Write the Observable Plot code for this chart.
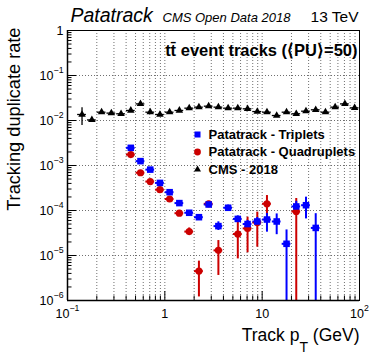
<!DOCTYPE html>
<html><head><meta charset="utf-8">
<script src="https://cdn.jsdelivr.net/npm/d3@7"></script>
<script src="https://cdn.jsdelivr.net/npm/@observablehq/plot@0.6"></script>
<style>
html,body{margin:0;padding:0;background:#fff;}
#chart{width:374px;height:359px;}
svg{font-family:"Liberation Sans",Arial,Helvetica,sans-serif;}
</style></head><body><div id="chart"></div>
<script>
// ---- data ----
const cmsPt   = [0.141,0.178,0.224,0.282,0.355,0.447,0.562,0.708,0.891,1.12,1.41,1.78,2.24,2.82,3.55,4.47,5.62,7.08,8.91,11.2,14.1,17.8,22.4,28.2,35.5,44.7,56.2,70.8,89.1];
const cmsRate = [0.0136,0.0103,0.0153,0.0146,0.0141,0.0167,0.0234,0.0153,0.0136,0.0153,0.0167,0.0188,0.0198,0.0208,0.0198,0.0188,0.0188,0.0182,0.0158,0.0153,0.0129,0.0153,0.0141,0.0161,0.0173,0.0153,0.0198,0.0234,0.0191];
const cmsLo   = [0.0077,0.0099,0.0148,0.0141,0.0136,0.0162,0.0227,0.0148,0.0131,0.0148,0.0162,0.0182,0.0192,0.0202,0.0192,0.0182,0.0182,0.0176,0.0152,0.0147,0.0123,0.0146,0.0134,0.0153,0.0164,0.0144,0.0186,0.0220,0.0177];
const cmsHi   = [0.0191,0.0107,0.0158,0.0151,0.0146,0.0172,0.0241,0.0158,0.0141,0.0158,0.0172,0.0194,0.0204,0.0214,0.0204,0.0194,0.0194,0.0188,0.0164,0.0159,0.0135,0.0160,0.0148,0.0169,0.0182,0.0162,0.0210,0.0248,0.0205];

const tripPt   = [0.447,0.562,0.708,0.891,1.12,1.41,1.78,2.24,2.82,3.55,4.47,5.62,7.08,8.91,11.2,14.1,17.8,22.4,28.2,35.5];
const tripRate = [2.47e-3,1.25e-3,8.1e-4,4.1e-4,2.55e-4,1.46e-4,8.9e-5,7.1e-5,1.36e-4,4.5e-5,1.15e-4,6.5e-5,5.0e-5,5.7e-5,6.3e-5,5.7e-5,1.82e-5,1.23e-4,1.31e-4,4.1e-5];
const tripLo   = [2.3e-3,1.15e-3,7.4e-4,3.7e-4,2.3e-4,1.3e-4,7.9e-5,6.2e-5,1.22e-4,3.6e-5,1.0e-4,5.4e-5,4.0e-5,4.6e-5,3.3e-5,2.9e-5,0,9e-5,6.5e-5,0];
const tripHi   = [2.65e-3,1.36e-3,8.9e-4,4.55e-4,2.85e-4,1.65e-4,1.0e-4,8.1e-5,1.52e-4,5.6e-5,1.32e-4,7.6e-5,6.0e-5,7.0e-5,8.6e-5,8.4e-5,3.7e-5,1.6e-4,1.98e-4,8.5e-5];

const quadPt   = [0.447,0.562,0.708,0.891,1.12,1.41,1.78,2.24,2.82,3.55,5.62,7.08,8.91,11.2,22.4];
const quadRate = [1.75e-3,6.9e-4,4.4e-4,2.9e-4,1.8e-4,8.7e-5,3.4e-5,4.5e-6,1.41e-4,1.3e-5,3.0e-5,4.0e-5,5.4e-5,1.41e-4,9.5e-5];
const quadLo   = [1.62e-3,6.3e-4,3.95e-4,2.55e-4,1.55e-4,7.6e-5,2.8e-5,1.2e-6,1.25e-4,3.6e-6,8.4e-6,1.15e-5,1.53e-5,7.7e-5,0];
const quadHi   = [1.9e-3,7.6e-4,4.9e-4,3.3e-4,2.05e-4,1.0e-4,4.1e-5,7.5e-6,1.6e-4,2.15e-5,6.8e-5,7.1e-5,9.2e-5,2.15e-4,1.85e-4];

const xTickValues = [0.1, 1, 10, 100];
const xTickLabels = ["10^{\u22121}", "1", "10", "10^{2}"];
const yTickValues = [1e-6, 1e-5, 1e-4, 1e-3, 1e-2, 1e-1, 1];
const yTickLabels = ["10^{\u22126}", "10^{\u22125}", "10^{\u22124}", "10^{\u22123}", "10^{\u22122}", "10^{\u22121}", "1"];

const legendLabels = ["Patatrack - Triplets", "Patatrack - Quadruplets", "CMS - 2018"];
const titleMain = "Patatrack";
const titleSub = "CMS Open Data 2018";
const energyLabel = "13 TeV";
const sampleLabel = "tt\u0304 event tracks (\u27E8PU\u27E9=50)";
const xLabel = "Track p_{T} (GeV)";
const yLabel = "Tracking duplicate rate";

// ---- layout / style ----
const W = 374, H = 359;
const mL = 67, mR = 15, mT = 30, mB = 59;
const plotW = W - mL - mR, plotH = H - mT - mB;
const HALF = Math.pow(10, 0.045);
const BLUE = "#0000ff", RED = "#cc0000", BLACK = "#000000";

function rows(pt, rate, lo, hi) {
  return pt.map((x, i) => ({x, y: rate[i], lo: Math.max(lo[i], 1e-6), hi: hi[i], xl: x / HALF, xh: x * HALF}));
}
const cms = rows(cmsPt, cmsRate, cmsLo, cmsHi);
const trip = rows(tripPt, tripRate, tripLo, tripHi);
const quad = rows(quadPt, quadRate, quadLo, quadHi);

// tick positions for log axes
const xAll = [], yAll = [];
for (const d of [0.1, 1, 10]) for (let k = 1; k <= 9; k++) xAll.push(d * k);
xAll.push(100);
for (const d of [1e-6, 1e-5, 1e-4, 1e-3, 1e-2, 1e-1]) for (let k = 1; k <= 9; k++) yAll.push(d * k);
yAll.push(1);
const xMinor = xAll.filter(v => !xTickValues.some(t => Math.abs(t - v) / t < 1e-9));
const yMinor = yAll.filter(v => !yTickValues.some(t => Math.abs(t - v) / t < 1e-9));
const xGrid = xAll.filter(v => v > 0.1 + 1e-9 && v < 100 - 1e-9);
const yGrid = yTickValues.filter(v => v > 1e-6 && v < 1);

const gridStyle = {stroke: "#6f6f6f", strokeOpacity: 1, strokeWidth: 1, strokeDasharray: "1,2"};

const marks = [
  Plot.gridX(xGrid, gridStyle),
  Plot.gridY(yGrid, gridStyle),
  // CMS
  Plot.ruleY(cms, {y: "y", x1: "xl", x2: "xh", stroke: BLACK, strokeWidth: 1.3}),
  Plot.ruleX(cms, {x: "x", y1: "lo", y2: "hi", stroke: BLACK, strokeWidth: 1.3}),
  // quadruplets
  Plot.ruleY(quad, {y: "y", x1: "xl", x2: "xh", stroke: RED, strokeWidth: 2}),
  Plot.ruleX(quad, {x: "x", y1: "lo", y2: "hi", stroke: RED, strokeWidth: 2}),
  // triplets
  Plot.ruleY(trip, {y: "y", x1: "xl", x2: "xh", stroke: BLUE, strokeWidth: 2}),
  Plot.ruleX(trip, {x: "x", y1: "lo", y2: "hi", stroke: BLUE, strokeWidth: 2}),
  Plot.dot(cms, {x: "x", y: "y", symbol: "triangle", fill: BLACK, r: 2.8}),
  Plot.dot(quad, {x: "x", y: "y", symbol: "circle", fill: RED, r: 3.6}),
  Plot.dot(trip, {x: "x", y: "y", symbol: "square", fill: BLUE, r: 3.7}),
  // ticks (inside the frame)
  Plot.tickX(xTickValues, {x: d => d, insetTop: plotH - 9, stroke: BLACK}),
  Plot.tickX(xMinor, {x: d => d, insetTop: plotH - 4.5, stroke: BLACK}),
  Plot.tickY(yTickValues, {y: d => d, insetRight: plotW - 9, stroke: BLACK}),
  Plot.tickY(yMinor, {y: d => d, insetRight: plotW - 4.5, stroke: BLACK}),
  Plot.frame({stroke: BLACK, strokeWidth: 1}),
  Plot.ruleX([0.1], {stroke: BLACK, strokeWidth: 1.5}),
  Plot.ruleY([1e-6], {stroke: BLACK, strokeWidth: 1.5}),
  // tick labels
  Plot.text(xTickValues, {x: d => d, text: (d, i) => xTickLabels[i], frameAnchor: "bottom", dy: 17, lineAnchor: "bottom", textAnchor: "middle", fontSize: 12.5, fill: BLACK}),
  Plot.text(yTickValues, {y: d => d, text: (d, i) => yTickLabels[i], frameAnchor: "left", dx: -4, lineAnchor: "middle", textAnchor: "end", fontSize: 12.5, fill: BLACK}),
  // axis titles
  Plot.text([xLabel], {text: d => d, frameAnchor: "bottom-right", dy: 40, lineAnchor: "bottom", textAnchor: "end", fontSize: 17.5, fill: BLACK}),
  Plot.text([yLabel], {text: d => d, frameAnchor: "top-left", rotate: -90, dx: -47.5, dy: -3, lineAnchor: "bottom", textAnchor: "end", fontSize: 18.2, fill: BLACK}),
  // header
  Plot.text([titleMain], {text: d => d, frameAnchor: "top-left", dx: 3, dy: -9, lineAnchor: "bottom", textAnchor: "start", fontSize: 19.5, fontStyle: "italic", fill: BLACK}),
  Plot.text([titleSub], {text: d => d, frameAnchor: "top-left", dx: 95, dy: -9, lineAnchor: "bottom", textAnchor: "start", fontSize: 13, fontStyle: "italic", fill: BLACK}),
  Plot.text([energyLabel], {text: d => d, frameAnchor: "top-right", dx: -1, dy: -9, lineAnchor: "bottom", textAnchor: "end", fontSize: 15.5, fill: BLACK}),
  Plot.text([sampleLabel], {text: d => d, frameAnchor: "top-right", dx: -2, dy: 25, lineAnchor: "bottom", textAnchor: "end", fontSize: 16.5, fontWeight: "bold", fill: BLACK})
];

// legend
const legendSymbols = ["square", "circle", "triangle"];
const legendColors = [BLUE, RED, BLACK];
const legendR = [3.4, 3.4, 2.6];
legendLabels.forEach((lab, i) => {
  marks.push(Plot.dot([lab], {frameAnchor: "top-left", dx: 130, dy: 104 + 17.5 * i, symbol: legendSymbols[i], fill: legendColors[i], r: legendR[i]}));
  marks.push(Plot.text([lab], {text: d => d, frameAnchor: "top-left", dx: 141, dy: 104 + 17.5 * i, lineAnchor: "middle", textAnchor: "start", fontSize: 13, fontWeight: "bold", fill: BLACK}));
});

const chart = Plot.plot({
  width: W, height: H,
  marginLeft: mL, marginRight: mR, marginTop: mT, marginBottom: mB,
  style: {fontFamily: '"Liberation Sans", Arial, Helvetica, sans-serif', background: "#fff", overflow: "visible"},
  x: {type: "log", domain: [0.1, 100], axis: null},
  y: {type: "log", domain: [1e-6, 1], axis: null},
  marks
});
document.getElementById("chart").appendChild(chart);

// rich text: ^{...} superscripts and _{...} subscripts
d3.select(chart).selectAll("text").each(function () {
  const s = this.textContent;
  if (!/[\^_]\{/.test(s)) return;
  const fs = parseFloat(getComputedStyle(this).fontSize) || 12;
  const parts = s.split(/([\^_]\{[^}]*\})/).filter(p => p !== "");
  this.textContent = "";
  let shift = 0;
  for (const p of parts) {
    const m = p.match(/^([\^_])\{([^}]*)\}$/);
    const ts = d3.select(this).append("tspan");
    if (m) {
      const target = m[1] === "^" ? -0.5 * fs : 0.68 * fs;
      ts.attr("dy", target - shift).attr("font-size", (m[1] === "^" ? 0.7 : 0.8) * fs).text(m[2]);
      shift = target;
    } else {
      ts.attr("dy", -shift).text(p);
      shift = 0;
    }
  }
});
</script></body></html>
